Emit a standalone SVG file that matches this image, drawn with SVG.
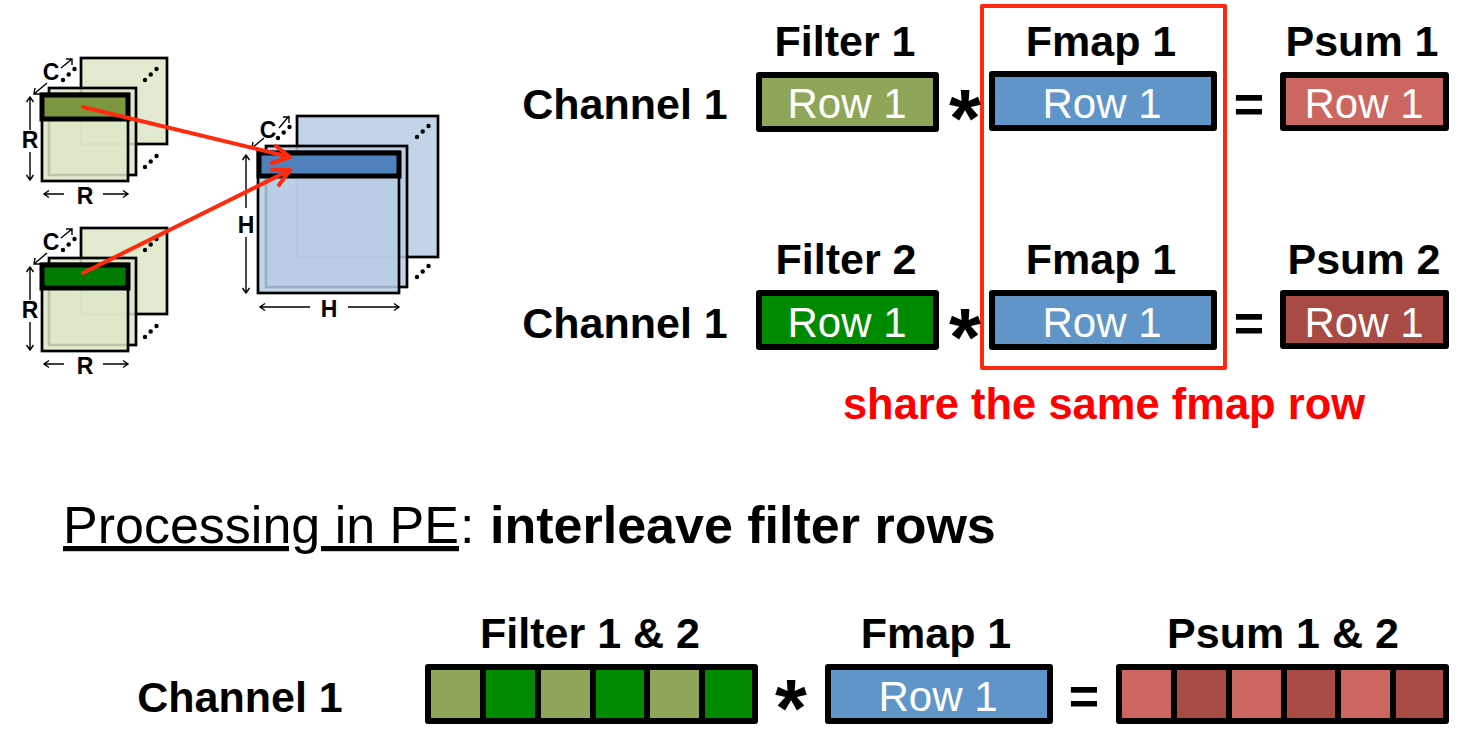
<svg xmlns="http://www.w3.org/2000/svg" width="1480" height="754" viewBox="0 0 1480 754">
<style>
text{font-family:"Liberation Sans",Arial,sans-serif;fill:#000}
.h{font-size:43px;font-weight:700;text-anchor:middle}
.row{font-size:42px;fill:#fff;text-anchor:middle}
.box{stroke:#000;stroke-width:6;stroke-linejoin:round}
.sep{stroke:#000;stroke-width:6}
.lab{font-size:23px;font-weight:700;text-anchor:middle}
.sheet{stroke:#000;stroke-width:2.7;fill-opacity:.85}
.g{fill:#dde7c8}.b{fill:#b9cde5}
.band{stroke:#000;stroke-width:5}
.dim{fill:none;stroke:#000;stroke-width:1.4}
.dot{fill:#000}
.star{font-size:82px;font-weight:700;text-anchor:middle}
.eq{font-size:52px;font-weight:700;text-anchor:middle}
.red{fill:none;stroke:#ff2a0d;stroke-width:4;stroke-linecap:round;stroke-linejoin:round}
</style>
<defs>
<g id="dots3"><circle cx="0" cy="0" r="2.200" class="dot"/><circle cx="5.700" cy="-5.500" r="2.200" class="dot"/><circle cx="11.500" cy="-11" r="2.200" class="dot"/></g>
<g id="filterStack">
<rect x="81" y="58" width="86" height="86" class="sheet g"/>
<rect x="49" y="88" width="87" height="87" class="sheet g"/>
<rect x="42" y="94" width="86" height="87" class="sheet g"/>
<use href="#dots3" x="63" y="80"/><use href="#dots3" x="145" y="80"/><use href="#dots3" x="145" y="167"/>
<text x="51" y="80" class="lab">C</text>
<text x="30" y="148" class="lab">R</text>
<text x="85" y="204" class="lab">R</text>
<path class="dim" d="M61 68L72 59M66 59H72V65M47 83L34 94M35 88L34 94H40M30 97V130M26.500 102L30 97L33.500 102M30 152V180M26.500 175L30 180L33.500 175M44 194H64M49 190.500L44 194L49 197.500M103 194H128M123 190.500L128 194L123 197.500"/>
</g>
</defs>

<g id="filter1-stack">
<use href="#filterStack"/>
<rect x="42" y="95" width="86" height="24" fill="#7b973f" class="band"/>
</g>
<g id="filter2-stack">
<use href="#filterStack" y="170"/>
<rect x="42" y="265" width="86" height="23" fill="#007a00" class="band"/>
</g>
<g id="fmap-stack">
<rect x="297" y="116" width="141" height="141" class="sheet b"/>
<rect x="266" y="146" width="141" height="141" class="sheet b"/>
<rect x="258" y="152" width="141" height="141" class="sheet b"/>
<rect x="259" y="153" width="140" height="23" fill="#4f81bd" class="band"/>
<use href="#dots3" x="278" y="138"/><use href="#dots3" x="417" y="137"/><use href="#dots3" x="417" y="277"/>
<text x="268" y="138" class="lab">C</text>
<text x="246" y="233" class="lab">H</text>
<text x="329" y="317" class="lab">H</text>
<path class="dim" d="M279 128L289 116M283 117H289V123M264 138L252 148M253 142L252 148H258M246 155V208M242.500 160L246 155L249.500 160M246 237V293M242.500 288L246 293L249.500 288M260 307H310M265 303.500L260 307L265 310.500M348 307H399M394 303.500L399 307L394 310.500"/>
</g>

<g id="connectors">
<path class="red" d="M83 107L290 157M276 146L290 157L272 163"/>
<path class="red" d="M83 273L290 170M272 170L290 170L279 185"/>
</g>

<g id="highlight"><rect x="982" y="6" width="243" height="362" class="red"/></g>

<g id="row-1">
<text x="625" y="119" class="h">Channel 1</text>
<text x="845" y="56" class="h">Filter 1</text>
<rect x="759" y="75" width="177" height="54" fill="#8fa65a" class="box"/>
<text x="847" y="118" class="row">Row 1</text>
<text x="965" y="146" class="star">*</text>
<text x="1101" y="56" class="h">Fmap 1</text>
<rect x="992" y="74" width="222" height="54" fill="#5f95c8" class="box"/>
<text x="1102" y="118" class="row">Row 1</text>
<text x="1249" y="122" class="eq">=</text>
<text x="1362" y="56" class="h">Psum 1</text>
<rect x="1283" y="75" width="163" height="53" fill="#cc6661" class="box"/>
<text x="1364" y="118" class="row">Row 1</text>
</g>

<g id="row-2">
<text x="625" y="338" class="h">Channel 1</text>
<text x="846" y="274" class="h">Filter 2</text>
<rect x="759" y="293" width="177" height="54" fill="#008a00" class="box"/>
<text x="847" y="337" class="row">Row 1</text>
<text x="965" y="365" class="star">*</text>
<text x="1101" y="274" class="h">Fmap 1</text>
<rect x="992" y="293" width="222" height="54" fill="#5f95c8" class="box"/>
<text x="1102" y="337" class="row">Row 1</text>
<text x="1249" y="341" class="eq">=</text>
<text x="1364" y="274" class="h">Psum 2</text>
<rect x="1283" y="293" width="163" height="53" fill="#a84b45" class="box"/>
<text x="1364" y="337" class="row">Row 1</text>
</g>

<g id="share-note"><text x="1104" y="419" class="h" style="fill:#ff0000;font-size:43.500px">share the same fmap row</text></g>

<g id="heading">
<text x="63" y="543" font-size="52" text-decoration="underline">Processing in PE</text>
<text x="460" y="543" font-size="52">:</text>
<text x="490" y="543" font-size="52" font-weight="700">interleave filter rows</text>
</g>

<g id="row-3">
<text x="240" y="712" class="h">Channel 1</text>
<text x="590" y="648" class="h">Filter 1 &amp; 2</text>
<g id="filter-cells">
<rect x="428" y="667" width="55" height="54" fill="#8fa65a"/><rect x="483" y="667" width="55" height="54" fill="#008a00"/>
<rect x="538" y="667" width="55" height="54" fill="#8fa65a"/><rect x="593" y="667" width="54" height="54" fill="#008a00"/>
<rect x="647" y="667" width="55" height="54" fill="#8fa65a"/><rect x="702" y="667" width="53" height="54" fill="#008a00"/>
<path class="sep" d="M483 667V721M538 667V721M593 667V721M647 667V721M702 667V721"/>
<rect x="428" y="667" width="327" height="54" fill="none" class="box"/>
</g>
<text x="791" y="736" class="star">*</text>
<text x="936" y="648" class="h">Fmap 1</text>
<rect x="828" y="667" width="222" height="54" fill="#5f95c8" class="box"/>
<text x="938" y="711" class="row">Row 1</text>
<text x="1084" y="714" class="eq">=</text>
<text x="1283" y="648" class="h">Psum 1 &amp; 2</text>
<g id="psum-cells">
<rect x="1119" y="667" width="55" height="54" fill="#cc6661"/><rect x="1174" y="667" width="55" height="54" fill="#a84b45"/>
<rect x="1229" y="667" width="55" height="54" fill="#cc6661"/><rect x="1284" y="667" width="54" height="54" fill="#a84b45"/>
<rect x="1338" y="667" width="55" height="54" fill="#cc6661"/><rect x="1393" y="667" width="53" height="54" fill="#a84b45"/>
<path class="sep" d="M1174 667V721M1229 667V721M1284 667V721M1338 667V721M1393 667V721"/>
<rect x="1119" y="667" width="327" height="54" fill="none" class="box"/>
</g>
</g>
</svg>
